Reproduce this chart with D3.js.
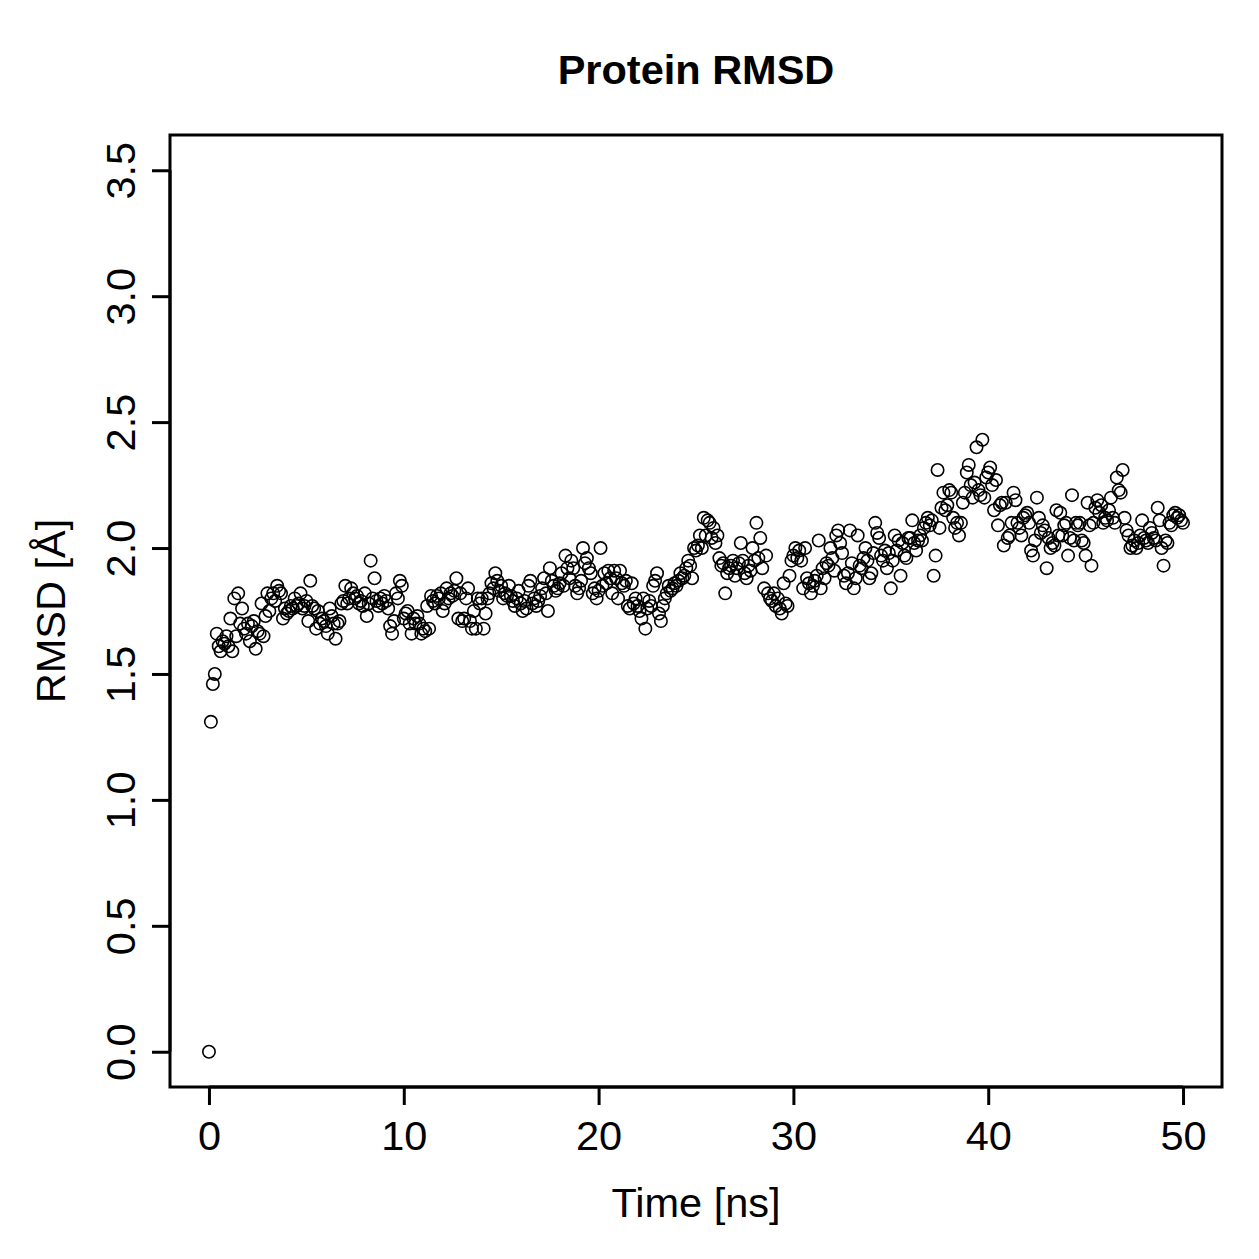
<!DOCTYPE html>
<html>
<head>
<meta charset="utf-8">
<script src="https://cdn.jsdelivr.net/npm/d3@7"></script>
<style>
  body { margin: 0; background: #fff; }
  text { font-family: "Liberation Sans", Arial, sans-serif; fill: #000; }
</style>
</head>
<body>
<div id="chart"></div>
<script>
// RMSD values, one per 0.1 ns (t = 0 .. 50 ns), one row per ns
var rmsd = [0.00,
  1.31,1.46,1.50,1.66,1.61,1.59,1.63,1.62,1.65,1.61,
  1.72,1.59,1.80,1.65,1.82,1.70,1.76,1.68,1.66,1.70,
  1.63,1.69,1.71,1.60,1.67,1.66,1.78,1.65,1.73,1.82,
  1.75,1.80,1.82,1.79,1.85,1.83,1.82,1.72,1.76,1.74,
  1.75,1.77,1.76,1.80,1.77,1.78,1.82,1.76,1.77,1.79,
  1.71,1.87,1.77,1.76,1.68,1.75,1.70,1.72,1.71,1.69,
  1.66,1.76,1.73,1.70,1.64,1.70,1.71,1.78,1.79,1.85,
  1.78,1.80,1.84,1.82,1.80,1.81,1.78,1.79,1.77,1.82,
  1.73,1.78,1.95,1.80,1.88,1.79,1.77,1.80,1.78,1.81,
  1.79,1.76,1.69,1.66,1.71,1.82,1.80,1.87,1.85,1.72,
  1.74,1.75,1.70,1.66,1.72,1.70,1.73,1.70,1.66,1.68,
  1.67,1.77,1.68,1.81,1.79,1.78,1.81,1.80,1.82,1.75,
  1.78,1.84,1.80,1.82,1.81,1.83,1.88,1.72,1.82,1.71,
  1.72,1.80,1.84,1.71,1.68,1.75,1.68,1.80,1.78,1.80,
  1.68,1.74,1.80,1.82,1.86,1.84,1.90,1.87,1.83,1.85,
  1.80,1.82,1.81,1.85,1.81,1.79,1.77,1.80,1.83,1.78,
  1.75,1.79,1.76,1.85,1.87,1.78,1.80,1.77,1.79,1.81,
  1.84,1.88,1.82,1.75,1.92,1.87,1.85,1.83,1.84,1.86,
  1.90,1.85,1.97,1.92,1.88,1.95,1.92,1.85,1.82,1.84,
  1.87,2.00,1.94,1.96,1.92,1.90,1.82,1.84,1.80,1.83,
  2.00,1.85,1.90,1.86,1.91,1.88,1.82,1.91,1.88,1.80,
  1.91,1.86,1.85,1.87,1.77,1.76,1.86,1.78,1.80,1.77,
  1.75,1.72,1.80,1.68,1.76,1.79,1.77,1.85,1.87,1.90,
  1.74,1.71,1.77,1.80,1.82,1.85,1.83,1.84,1.86,1.85,
  1.87,1.90,1.88,1.89,1.92,1.95,1.93,1.88,2.00,1.99,
  2.01,2.05,2.00,2.12,2.05,2.11,2.10,2.04,2.08,2.02,
  2.05,1.96,1.93,1.94,1.82,1.90,1.92,1.93,1.95,1.89,
  1.92,1.94,2.02,1.95,1.90,1.88,1.93,1.91,2.00,1.95,
  2.10,1.96,2.04,1.92,1.84,1.97,1.82,1.80,1.79,1.82,
  1.77,1.80,1.76,1.74,1.86,1.78,1.77,1.89,1.95,1.97,
  2.00,1.96,1.99,1.95,1.84,2.00,1.88,1.86,1.82,1.85,
  1.87,1.89,2.03,1.84,1.92,1.88,1.94,1.93,2.00,1.96,
  1.91,2.05,2.07,2.02,1.98,1.89,1.86,1.90,2.07,1.94,
  1.84,1.88,2.05,1.93,1.92,1.96,2.00,1.95,1.88,1.90,
  1.98,2.10,2.06,2.04,1.97,1.95,1.99,1.92,1.98,1.84,
  1.95,2.05,1.99,2.03,1.89,2.02,1.97,1.96,2.04,2.04,
  2.11,2.02,1.99,2.03,2.05,2.03,2.08,2.10,2.12,2.09,
  2.11,1.89,1.97,2.31,2.08,2.16,2.22,2.15,2.17,2.23,
  2.22,2.12,2.08,2.10,2.05,2.10,2.18,2.22,2.30,2.33,
  2.25,2.20,2.26,2.40,2.23,2.21,2.43,2.20,2.28,2.30,
  2.32,2.25,2.15,2.27,2.09,2.17,2.18,2.01,2.18,2.04,
  2.05,2.10,2.22,2.19,2.10,2.08,2.05,2.12,2.13,2.14,
  2.10,1.99,1.97,2.03,2.20,2.12,2.06,2.09,2.07,1.92,
  2.04,2.00,2.02,2.01,2.15,2.05,2.14,2.05,2.09,2.10,
  1.97,2.04,2.21,2.03,2.10,2.09,2.10,2.03,2.02,1.97,
  2.18,2.09,1.93,2.10,2.16,2.19,2.14,2.17,2.10,2.12,
  2.11,2.15,2.20,2.12,2.10,2.28,2.23,2.22,2.31,2.12,
  2.07,2.05,2.00,2.01,2.03,2.00,2.02,2.05,2.11,2.04,
  2.03,2.02,2.08,2.06,2.04,2.03,2.16,2.11,2.00,1.93,
  2.03,2.02,2.10,2.09,2.13,2.14,2.12,2.13,2.11,2.10];
var timeStep = 0.1; // ns between frames

var xTicks = [0, 10, 20, 30, 40, 50];
var yTicks = [0.0, 0.5, 1.0, 1.5, 2.0, 2.5, 3.0, 3.5];

var W = 1259, H = 1259;
var box = {left: 170, right: 1222, top: 135, bottom: 1087};
var fs = 41.5;

var svg = d3.select("#chart").append("svg")
    .attr("width", W)
    .attr("height", H);

// R style: limits padded 4% on each side
var x = d3.scaleLinear().domain([-2, 52]).range([box.left, box.right]);
var y = d3.scaleLinear().domain([-0.14, 3.64]).range([box.bottom, box.top]);

// points
svg.append("g").selectAll("circle")
    .data(rmsd)
  .enter().append("circle")
    .attr("cx", function(d, i) { return x(i * timeStep); })
    .attr("cy", function(d) { return y(d); })
    .attr("r", 6.2)
    .attr("fill", "none")
    .attr("stroke", "#000")
    .attr("stroke-width", 1.6);

// frame
svg.append("rect")
    .attr("x", box.left).attr("y", box.top)
    .attr("width", box.right - box.left)
    .attr("height", box.bottom - box.top)
    .attr("fill", "none")
    .attr("stroke", "#000")
    .attr("stroke-width", 3);

// bottom axis
var xAxis = svg.append("g")
    .attr("transform", "translate(0," + box.bottom + ")")
    .call(d3.axisBottom(x).tickValues(xTicks).tickSize(18).tickPadding(16).tickSizeOuter(0)
      .tickFormat(d3.format("d")));

// left axis
var yAxis = svg.append("g")
    .attr("transform", "translate(" + box.left + ",0)")
    .call(d3.axisLeft(y).tickValues(yTicks).tickSize(18).tickSizeOuter(0)
      .tickFormat(d3.format(".1f")));

[xAxis, yAxis].forEach(function(g) {
  g.select(".domain").attr("stroke-width", 3);
  g.selectAll(".tick line").attr("stroke-width", 3);
  g.selectAll("text").attr("font-size", fs).attr("font-family", "Liberation Sans, Arial, sans-serif");
});
xAxis.select(".domain").attr("d", "M" + x(0) + ",0H" + x(50));
yAxis.select(".domain").attr("d", "M0," + y(0) + "V" + y(3.5));

// rotated y tick labels like R
yAxis.selectAll(".tick text")
    .attr("x", null).attr("dy", null)
    .attr("text-anchor", "middle")
    .attr("transform", "translate(-35,0) rotate(-90)");

xAxis.selectAll(".tick text").attr("dy", "0.71em");

// titles
svg.append("text")
    .attr("x", (box.left + box.right) / 2)
    .attr("y", 84)
    .attr("text-anchor", "middle")
    .attr("font-size", fs)
    .attr("font-weight", "bold")
    .text("Protein RMSD");

svg.append("text")
    .attr("x", (box.left + box.right) / 2)
    .attr("y", 1217)
    .attr("text-anchor", "middle")
    .attr("font-size", fs)
    .text("Time [ns]");

svg.append("text")
    .attr("transform", "translate(65," + ((box.top + box.bottom) / 2) + ") rotate(-90)")
    .attr("text-anchor", "middle")
    .attr("font-size", fs)
    .text("RMSD [Å]");
</script>
</body>
</html>
